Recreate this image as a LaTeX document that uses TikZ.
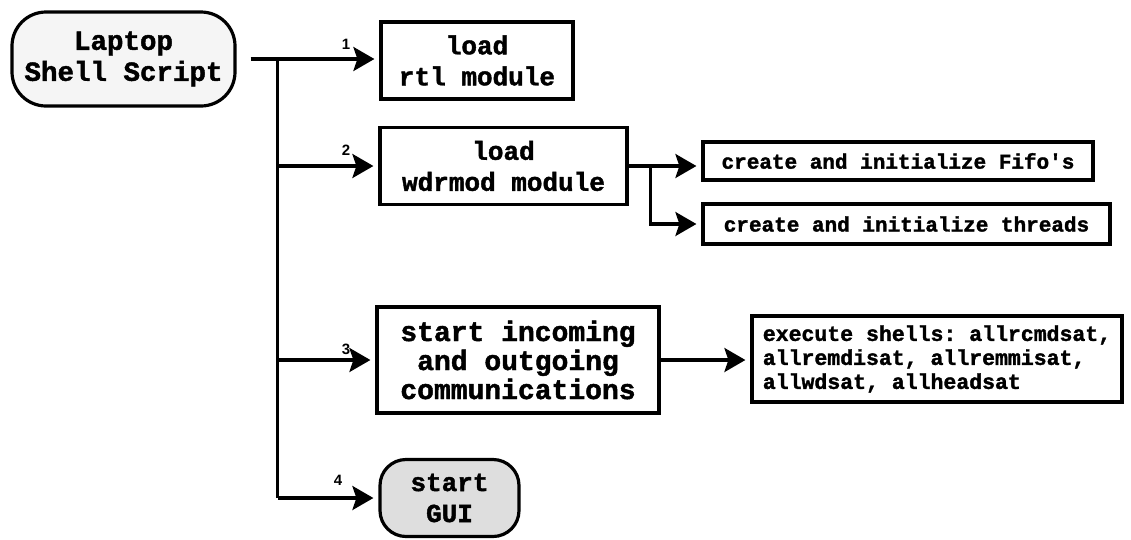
\documentclass[tikz,border=0pt]{standalone}
\usepackage{fontspec}
\setmonofont{Liberation Mono}[BoldFeatures={FakeBold=1.6}]
\setsansfont{Liberation Sans}
\usetikzlibrary{arrows.meta,calc}

\begin{document}
\begin{tikzpicture}[
  x=1pt, y=-1pt,
  box/.style={draw=black, line width=3.2pt, fill=white, align=center,
              inner sep=2pt, font=\ttfamily\bfseries\fontsize{26}{31}\selectfont},
  pill/.style={box, rounded corners=34pt},
  small/.style={box, font=\ttfamily\bfseries\fontsize{21}{24}\selectfont},
  num/.style={font=\sffamily\bfseries\fontsize{15}{15}\selectfont, inner sep=0pt},
  wire/.style={line width=3.2pt},
  arr/.style={wire, -{Stealth[length=21pt,width=24pt,inset=4pt]}, shorten >=5pt},
]
\useasboundingbox (0,0) rectangle (1131,539);

% ---- start / end ----
\node[pill, fill=black!4, minimum width=223pt, minimum height=94pt,
      font=\ttfamily\bfseries\fontsize{27.5}{31}\selectfont] (script) at (123.5,59) {Laptop\\Shell Script};
\node[pill, fill=black!13, rounded corners=26pt, minimum width=139pt, minimum height=77pt] (gui) at (449.5,498) {start\\GUI};

% ---- steps ----
\node[box, minimum width=192pt, minimum height=77pt] (rtl) at (477,60.5) {load\\rtl module};
\node[box, minimum width=247pt, minimum height=77pt] (wdr) at (503.5,166) {load\\wdrmod module};
\node[box, minimum width=282pt, minimum height=106pt,
      font=\ttfamily\bfseries\fontsize{28}{29}\selectfont] (comm) at (518,360) {start incoming\\and outgoing\\communications};

% ---- sub-steps ----
\node[small, minimum width=390pt, minimum height=38pt] (fifo) at (898,161) {create and initialize Fifo's};
\node[small, align=left, minimum width=407pt, minimum height=40pt] (thr) at (906.5,224) {create and initialize threads};
\node[small, align=left, minimum width=370pt, minimum height=86pt,
      font=\ttfamily\bfseries\fontsize{21.5}{24}\selectfont] (exec) at (937,359)
      {execute shells: allrcmdsat,\\allremdisat, allremmisat,\\allwdsat, allheadsat};

% ---- trunk ----
\coordinate (start) at ($(script.east)+(14,0)$);
\coordinate (trunk) at ($(start)+(27,0)$);
\coordinate (split) at ($(wdr.east)+(22,0)$);

\draw[arr] (start) -- (start -| rtl.west);
\draw[wire] (trunk) -- (trunk |- gui.west);
\draw[arr] (trunk |- wdr.west) -- (wdr.west);
\draw[arr] (trunk |- comm.west) -- (comm.west);
\draw[arr] (trunk |- gui.west) -- (gui.west);

% ---- branches ----
\draw[wire] (wdr.east) -- (split);
\draw[arr] (split) -- (split -| fifo.west);
\draw[arr] (split) |- (thr.west);
\draw[arr] (comm.east) -- (comm.east -| exec.west);

% ---- numbers ----
\node[num] (n1) at (346,44) {1};
\node[num] (n2) at (346,150) {2};
\node[num] (n3) at (346,349) {3};
\node[num] (n4) at (338,480) {4};
\end{tikzpicture}
\end{document}
